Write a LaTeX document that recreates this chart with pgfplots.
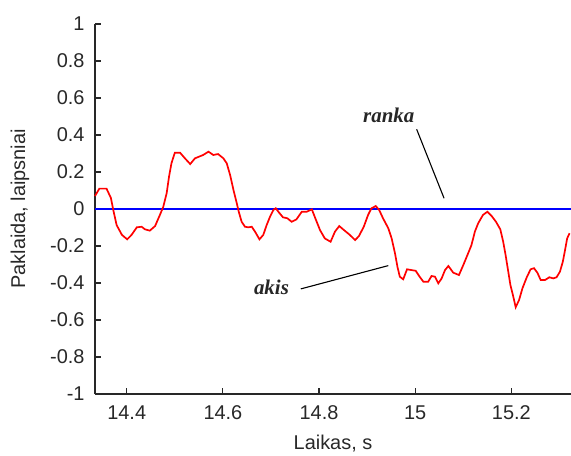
\documentclass[border=0pt]{standalone}
\usepackage{pgfplots}
\pgfplotsset{compat=1.18}
\usepackage{fontspec}
\setmainfont{Liberation Sans}
\newfontfamily\annotfont{Liberation Serif}

\definecolor{axisgray}{RGB}{40,40,40}

\begin{document}
\begin{tikzpicture}[x=1bp,y=1bp]
\begin{axis}[
  scale only axis,
  width=476bp, height=370bp,
  xmin=14.334, xmax=15.324,
  ymin=-1, ymax=1,
  axis x line=bottom, axis y line=left,
  axis line style={-, axisgray, line width=1.6bp},
  tick align=inside,
  major tick length=6bp,
  tick style={axisgray, line width=1.2bp},
  xtick={14.4,14.6,14.8,15,15.2},
  ytick={-1,-0.8,...,1},
  /pgf/number format/assume math mode=true,
  /pgf/number format/fixed,
  tick label style={font=\fontsize{20}{23}\selectfont, text=axisgray},
  xticklabel style={yshift=-8bp},
  yticklabel style={xshift=-7bp},
  label style={font=\fontsize{20}{24}\selectfont, text=axisgray},
  xlabel={Laikas, s},
  ylabel={Paklaida, laipsniai},
  xlabel style={yshift=-9bp},
  ylabel style={yshift=14bp},
  clip=false,
]
% reference hand position (zero)
\addplot[blue, line width=2bp] coordinates {(14.334,0) (15.324,0)};
% eye position error
\addplot[red, line width=1.7bp] coordinates {
(14.334,0.07) (14.343,0.11) (14.358,0.11) (14.367,0.06) (14.372,-0.005)
(14.379,-0.087) (14.390,-0.14) (14.401,-0.164) (14.410,-0.14) (14.421,-0.099)
(14.431,-0.096) (14.438,-0.11) (14.448,-0.117) (14.459,-0.092) (14.469,-0.032)
(14.476,0.012) (14.483,0.085) (14.488,0.175) (14.493,0.247) (14.500,0.304)
(14.511,0.304) (14.521,0.274) (14.532,0.243) (14.542,0.274) (14.559,0.292)
(14.570,0.31) (14.580,0.292) (14.590,0.297) (14.601,0.274) (14.608,0.247)
(14.615,0.184) (14.622,0.103) (14.629,0.03) (14.633,-0.015) (14.639,-0.069)
(14.646,-0.096) (14.653,-0.099) (14.660,-0.096) (14.667,-0.123) (14.676,-0.164)
(14.684,-0.14) (14.691,-0.087) (14.698,-0.042) (14.705,-0.005) (14.710,0.004)
(14.717,-0.02) (14.725,-0.045) (14.734,-0.05) (14.743,-0.069) (14.753,-0.056)
(14.764,-0.015) (14.774,-0.015) (14.785,-0.002) (14.791,-0.042) (14.802,-0.114)
(14.812,-0.159) (14.824,-0.177) (14.833,-0.123) (14.842,-0.092) (14.850,-0.11)
(14.864,-0.14) (14.875,-0.168) (14.883,-0.146) (14.893,-0.096) (14.902,-0.032)
(14.909,0.004) (14.918,0.016) (14.925,-0.005) (14.933,-0.05) (14.944,-0.104)
(14.951,-0.159) (14.958,-0.24) (14.963,-0.312) (14.968,-0.366) (14.975,-0.38)
(14.983,-0.326) (14.992,-0.33) (15.001,-0.334) (15.010,-0.369) (15.017,-0.393)
(15.027,-0.393) (15.034,-0.362) (15.041,-0.366) (15.048,-0.402) (15.055,-0.375)
(15.062,-0.33) (15.069,-0.308) (15.079,-0.344) (15.091,-0.357) (15.100,-0.303)
(15.110,-0.24) (15.117,-0.195) (15.124,-0.123) (15.131,-0.077) (15.141,-0.032)
(15.150,-0.015) (15.159,-0.038) (15.168,-0.069) (15.177,-0.11) (15.183,-0.177)
(15.188,-0.249) (15.193,-0.33) (15.198,-0.411) (15.204,-0.474) (15.209,-0.531)
(15.216,-0.492) (15.223,-0.429) (15.232,-0.369) (15.240,-0.326) (15.247,-0.32)
(15.254,-0.344) (15.261,-0.384) (15.270,-0.384) (15.279,-0.369) (15.287,-0.375)
(15.294,-0.369) (15.301,-0.339) (15.307,-0.285) (15.311,-0.231) (15.316,-0.159)
(15.321,-0.131)
};
% series labels
\node[font=\annotfont\fontsize{21}{24}\selectfont\bfseries\itshape, text=black!85]
  at (axis cs:14.945,0.508) {ranka};
\draw[black, line width=1.1bp] (axis cs:15.003,0.431) -- (axis cs:15.060,0.058);
\node[font=\annotfont\fontsize{21}{24}\selectfont\bfseries\itshape, text=black!85]
  at (axis cs:14.701,-0.422) {akis};
\draw[black, line width=1.1bp] (axis cs:14.762,-0.432) -- (axis cs:14.944,-0.306);
\end{axis}
\pgfresetboundingbox
\path (current axis.south west) ++(-95bp,-62bp) rectangle ++(571bp,456bp);
\end{tikzpicture}
\end{document}
